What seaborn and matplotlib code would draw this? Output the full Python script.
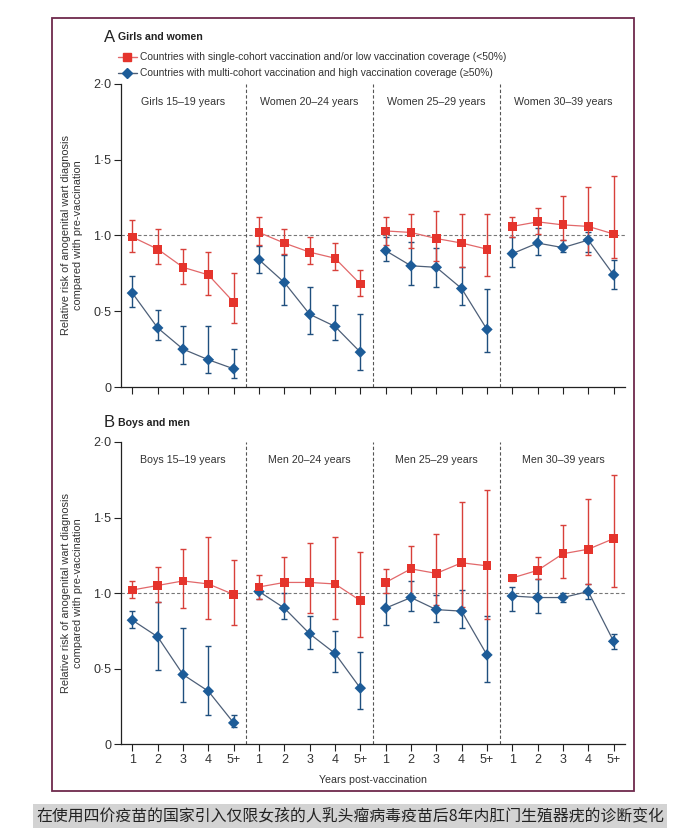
import numpy as np
import pandas as pd
import matplotlib
matplotlib.use('Agg')
import matplotlib.pyplot as plt
import seaborn as sns
from matplotlib.lines import Line2D
from matplotlib.patches import Rectangle

# ---- data ----
year_labels = ['1', '2', '3', '4', '5+']
legend_labels = ['Countries with single-cohort vaccination and/or low vaccination coverage (<50%)',
                 'Countries with multi-cohort vaccination and high vaccination coverage (\u226550%)']

female_groups = ['Girls 15\u201319 years', 'Women 20\u201324 years', 'Women 25\u201329 years', 'Women 30\u201339 years']
male_groups = ['Boys 15\u201319 years', 'Men 20\u201324 years', 'Men 25\u201329 years', 'Men 30\u201339 years']

# girls and women, low coverage (red)
female_low_rr = [[0.99, 0.91, 0.79, 0.74, 0.56],
                 [1.02, 0.95, 0.89, 0.85, 0.68],
                 [1.03, 1.02, 0.98, 0.95, 0.91],
                 [1.06, 1.09, 1.07, 1.06, 1.01]]
female_low_lo = [[0.89, 0.81, 0.68, 0.61, 0.42],
                 [0.94, 0.88, 0.81, 0.77, 0.60],
                 [0.94, 0.92, 0.83, 0.79, 0.73],
                 [0.99, 1.01, 0.97, 0.87, 0.85]]
female_low_hi = [[1.10, 1.04, 0.91, 0.89, 0.75],
                 [1.12, 1.04, 0.99, 0.95, 0.77],
                 [1.12, 1.14, 1.16, 1.14, 1.14],
                 [1.12, 1.18, 1.26, 1.32, 1.39]]
# girls and women, high coverage (blue)
female_high_rr = [[0.62, 0.39, 0.25, 0.18, 0.12],
                  [0.84, 0.69, 0.48, 0.40, 0.23],
                  [0.90, 0.80, 0.79, 0.65, 0.38],
                  [0.88, 0.95, 0.92, 0.97, 0.74]]
female_high_lo = [[0.53, 0.31, 0.15, 0.09, 0.06],
                  [0.75, 0.54, 0.35, 0.31, 0.11],
                  [0.83, 0.67, 0.66, 0.54, 0.23],
                  [0.79, 0.87, 0.89, 0.89, 0.65]]
female_high_hi = [[0.73, 0.51, 0.40, 0.40, 0.25],
                  [0.93, 0.87, 0.66, 0.54, 0.48],
                  [0.99, 0.96, 0.92, 0.79, 0.65],
                  [0.99, 1.05, 0.97, 1.02, 0.84]]

# boys and men, low coverage (red)
male_low_rr = [[1.02, 1.05, 1.08, 1.06, 0.99],
               [1.04, 1.07, 1.07, 1.06, 0.95],
               [1.07, 1.16, 1.13, 1.20, 1.18],
               [1.10, 1.15, 1.26, 1.29, 1.36]]
male_low_lo = [[0.97, 0.94, 0.90, 0.83, 0.79],
               [0.96, 0.91, 0.87, 0.83, 0.71],
               [1.00, 0.97, 0.92, 0.91, 0.83],
               [1.08, 1.09, 1.10, 1.06, 1.04]]
male_low_hi = [[1.08, 1.17, 1.29, 1.37, 1.22],
               [1.12, 1.24, 1.33, 1.37, 1.27],
               [1.16, 1.31, 1.39, 1.60, 1.68],
               [1.11, 1.24, 1.45, 1.62, 1.78]]
# boys and men, high coverage (blue)
male_high_rr = [[0.82, 0.71, 0.46, 0.35, 0.14],
                [1.01, 0.90, 0.73, 0.60, 0.37],
                [0.90, 0.97, 0.89, 0.88, 0.59],
                [0.98, 0.97, 0.97, 1.01, 0.68]]
male_high_lo = [[0.77, 0.49, 0.28, 0.19, 0.11],
                [0.96, 0.83, 0.63, 0.48, 0.23],
                [0.79, 0.88, 0.81, 0.77, 0.41],
                [0.88, 0.87, 0.94, 0.96, 0.63]]
male_high_hi = [[0.88, 0.94, 0.77, 0.65, 0.19],
                [1.04, 1.00, 0.85, 0.75, 0.61],
                [1.05, 1.08, 0.99, 1.02, 0.85],
                [1.04, 1.09, 1.00, 1.06, 0.73]]


def build_frame(groups, low_rr, low_lo, low_hi, high_rr, high_lo, high_hi):
    rows = []
    for cov, rr, lo, hi in [('high', high_rr, high_lo, high_hi), ('low', low_rr, low_lo, low_hi)]:
        for g, name in enumerate(groups):
            for j in range(len(year_labels)):
                rows.append({'group': name, 'coverage': cov, 'pos': g * 5 + j,
                             'rr': rr[g][j], 'lo': lo[g][j], 'hi': hi[g][j]})
    return pd.DataFrame(rows)


df_f = build_frame(female_groups, female_low_rr, female_low_lo, female_low_hi,
                   female_high_rr, female_high_lo, female_high_hi)
df_m = build_frame(male_groups, male_low_rr, male_low_lo, male_low_hi,
                   male_high_rr, male_high_lo, male_high_hi)

sns.set_style('white')
plt.rcParams['font.family'] = ['Liberation Sans', 'DejaVu Sans']
txt = '#333333'

marker_col = {'low': '#e5342c', 'high': '#1d5c98'}
line_col = {'low': '#e2686a', 'high': '#4d5f78'}
err_col = {'low': '#d8403a', 'high': '#1f4f7e'}
markers = {'low': 's', 'high': 'D'}

fig = plt.figure(figsize=(6.85, 8.33), dpi=100)
fig.patch.set_facecolor('white')
ax_a = fig.add_axes([0.1766, 0.5354, 0.7358, 0.3638])
ax_b = fig.add_axes([0.1766, 0.1068, 0.7358, 0.3626])


def draw_panel(ax, df, groups, show_xlabels):
    ax.set_facecolor('none')
    ax.axhline(1.0, color='#777777', ls=(0, (3, 2)), lw=0.8, zorder=1)
    for b in [4.5, 9.5, 14.5]:
        ax.axvline(b, color='#555555', ls=(0, (3, 2)), lw=0.8, zorder=1)
    for cov in ['high', 'low']:
        d = df[df['coverage'] == cov]
        sns.lineplot(data=d, x='pos', y='rr', units='group', estimator=None,
                     color=line_col[cov], lw=0.9, ax=ax, zorder=2)
        ax.errorbar(d['pos'], d['rr'], yerr=[d['rr'] - d['lo'], d['hi'] - d['rr']],
                    fmt='none', ecolor=err_col[cov], elinewidth=1.0, capsize=2.5,
                    capthick=1.0, zorder=3)
        sns.scatterplot(data=d, x='pos', y='rr', marker=markers[cov],
                        color=marker_col[cov], s=40 if cov == 'low' else 34,
                        edgecolor='none', ax=ax, zorder=4)
    for g, name in enumerate(groups):
        ax.text(g * 5 + 2, 1.88, name, ha='center', va='center', fontsize=7.7, color=txt)
    ax.set_xlim(-0.45, 19.45)
    ax.set_ylim(0, 2.0)
    ax.set_xticks(range(20))
    if show_xlabels:
        ax.set_xticklabels(year_labels * 4)
    else:
        ax.set_xticklabels([])
    ax.set_yticks([0, 0.5, 1.0, 1.5, 2.0])
    ax.set_yticklabels(['0', '0\u00b75', '1\u00b70', '1\u00b75', '2\u00b70'])
    ax.tick_params(axis='both', direction='out', length=5, width=0.8, color='#222222',
                   labelsize=9, labelcolor=txt, pad=2)
    ax.tick_params(axis='both', which='both', bottom=True, left=True)
    sns.despine(ax=ax)
    for s in ['left', 'bottom']:
        ax.spines[s].set_color('#222222')
        ax.spines[s].set_linewidth(0.9)
    ax.set_xlabel('')
    ax.set_ylabel('Relative risk of anogenital wart diagnosis\ncompared with pre-vaccination',
                  fontsize=7.9, color=txt, labelpad=7, linespacing=1.3)


draw_panel(ax_a, df_f, female_groups, False)
draw_panel(ax_b, df_m, male_groups, True)
ax_b.set_xlabel('Years post-vaccination', fontsize=7.7, color=txt, labelpad=7)

# panel headings
fig.text(104 / 685, 1 - 37 / 833, 'A', fontsize=12, color='#222222', va='center', ha='left')
fig.text(118 / 685, 1 - 37 / 833, 'Girls and women', fontsize=7.6, fontweight='bold',
         color='#222222', va='center', ha='left')
fig.text(104 / 685, 1 - 423 / 833, 'B', fontsize=12, color='#222222', va='center', ha='left')
fig.text(118 / 685, 1 - 423 / 833, 'Boys and men', fontsize=7.6, fontweight='bold',
         color='#222222', va='center', ha='left')

# legend
handles = [Line2D([], [], color=line_col[c], lw=1.0, marker=markers[c], markersize=6 if c == 'low' else 5.5,
                  markerfacecolor=marker_col[c], markeredgecolor=marker_col[c]) for c in ['low', 'high']]
fig.legend(handles, legend_labels, loc='upper left', bbox_to_anchor=(113 / 685, 1 - 47 / 833),
           frameon=False, fontsize=7.4, handlelength=1.8, handletextpad=0.3, labelspacing=0.6,
           borderpad=0, labelcolor=txt)

# frame around the figure
fig.add_artist(Rectangle((52 / 685, 1 - 791 / 833), (634 - 52) / 685, (791 - 18) / 833,
                         transform=fig.transFigure, fill=False, edgecolor='#6e2a4c', lw=1.3))

# caption
fig.text(350 / 685, 1 - 816 / 833, '在使用四价疫苗的国家引入仅限女孩的人乳头瘤病毒疫苗后8年内肛门生殖器疣的诊断变化',
         ha='center', va='center', fontsize=11.4, color='#222222',
         family=['Noto Sans CJK SC', 'DejaVu Sans'],
         bbox=dict(facecolor='#d3d3d3', edgecolor='none', pad=2.2))

fig.savefig('out.png', dpi=100, facecolor='white')
